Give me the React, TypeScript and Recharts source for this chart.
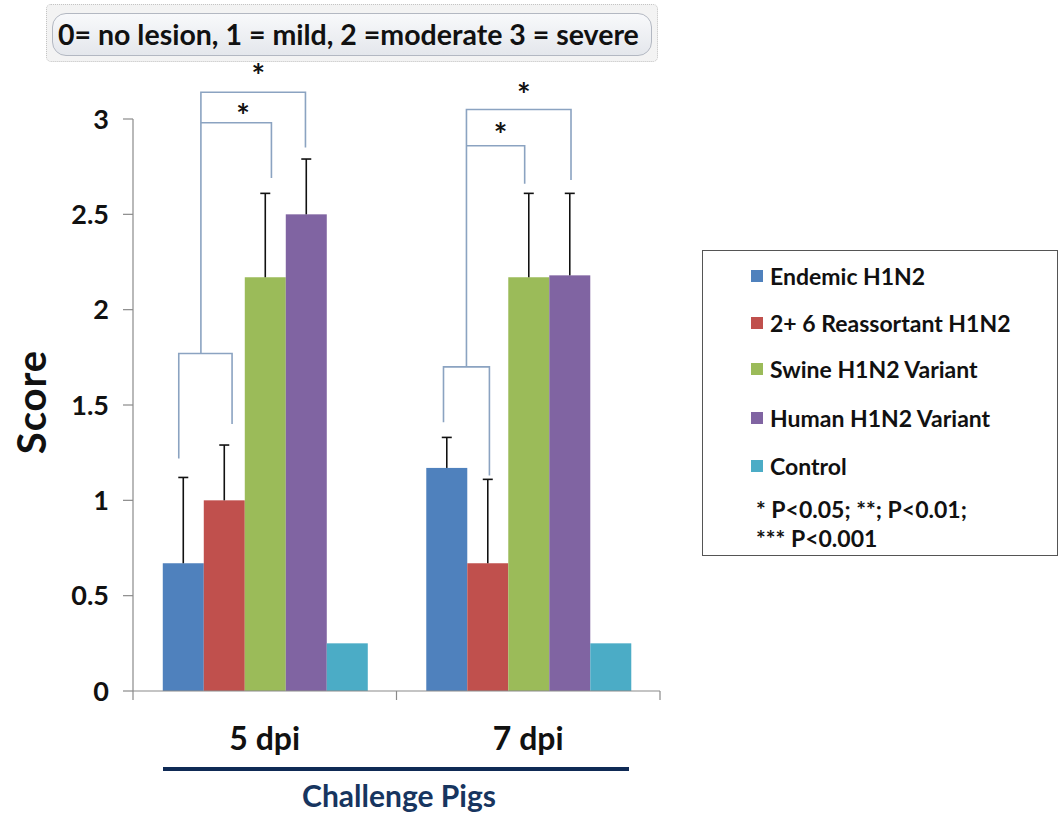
import React from 'react';
import { BarChart, Bar, XAxis, YAxis, Legend } from 'recharts';

const categories = ['5 dpi', '7 dpi'];
const seriesNames = ['Endemic H1N2', '2+ 6 Reassortant H1N2', 'Swine H1N2 Variant', 'Human H1N2 Variant', 'Control'];
const seriesKeys = ['endemic', 'reassortant', 'swine', 'human', 'control'];
const seriesColors = ['#4f81bd', '#c0504d', '#9bbb59', '#8064a2', '#4bacc6'];

const endemic = [0.67, 1.17];
const endemicErr = [0.45, 0.16];
const reassortant = [1.0, 0.67];
const reassortantErr = [0.29, 0.44];
const swine = [2.17, 2.17];
const swineErr = [0.44, 0.44];
const human = [2.5, 2.18];
const humanErr = [0.29, 0.43];
const control = [0.25, 0.25];
const controlErr = [0, 0];

const yTicks = [0, 0.5, 1, 1.5, 2, 2.5, 3];

const title = '0= no lesion, 1 = mild, 2 =moderate 3 = severe';
const yLabel = 'Score';
const xLabel = 'Challenge Pigs';
const statsLines = ['* P<0.05; **; P<0.01;', '*** P<0.001'];

// significance brackets: points as [bar slot within group (0..5), score]
const brackets5 = [
  [[0.39, 1.22], [0.39, 1.77], [1.69, 1.77], [1.69, 1.40]],
  [[0.93, 1.77], [0.93, 3.14], [3.48, 3.14], [3.48, 2.85]],
  [[0.93, 2.98], [2.65, 2.98], [2.65, 2.69]],
];
const stars5 = [[2.33, 3.25], [1.96, 3.04]];
const brackets7 = [
  [[0.42, 1.41], [0.42, 1.70], [1.54, 1.70], [1.54, 1.13]],
  [[0.98, 1.70], [0.98, 3.05], [3.53, 3.05], [3.53, 2.68]],
  [[0.98, 2.86], [2.40, 2.86], [2.40, 2.66]],
];
const stars7 = [[2.38, 3.15], [1.81, 2.94]];
const bracketSets = [brackets5, brackets7];
const starSets = [stars5, stars7];

const errArrays = [endemicErr, reassortantErr, swineErr, humanErr, controlErr];
const valueArrays = [endemic, reassortant, swine, human, control];

const data = categories.map((c, i) => {
  const row: any = { category: c };
  seriesKeys.forEach((k, s) => {
    row[k] = valueArrays[s][i];
  });
  return row;
});

const FONT = 'Lato, Carlito, Calibri, sans-serif';

const makeShape = (seriesIdx: number) => (props: any) => {
  const { x, y, width, height, fill, payload } = props;
  const idx = categories.indexOf(payload.category);
  const v = valueArrays[seriesIdx][idx];
  const base = y + height;
  const ppu = v ? height / v : 0;
  const err = errArrays[seriesIdx][idx];
  const cx = x + width / 2;
  const els: any[] = [];
  els.push(<rect key="r" x={x} y={y} width={width} height={height} fill={fill} />);
  if (err > 0) {
    const top = base - (v + err) * ppu;
    els.push(<line key="e1" x1={cx} y1={y} x2={cx} y2={top} stroke="#111" strokeWidth={1.6} />);
    els.push(<line key="e2" x1={cx - 5} y1={top} x2={cx + 5} y2={top} stroke="#111" strokeWidth={1.6} />);
  }
  if (seriesIdx === seriesKeys.length - 1) {
    const groupStart = x - seriesIdx * width;
    const sx = (s: number) => groupStart + s * width;
    const sy = (sc: number) => base - sc * ppu;
    bracketSets[idx].forEach((pts, j) => {
      els.push(
        <polyline
          key={'b' + j}
          points={pts.map((p) => `${sx(p[0])},${sy(p[1])}`).join(' ')}
          fill="none"
          stroke="#8ba3c1"
          strokeWidth={1.6}
        />
      );
    });
    starSets[idx].forEach((p, j) => {
      els.push(
        <text key={'s' + j} x={sx(p[0])} y={sy(p[1]) + 17} textAnchor="middle" fontFamily={FONT} fontWeight={700} fontSize={32} fill="#111">
          *
        </text>
      );
    });
  }
  return <g>{els}</g>;
};

const XTick = (props: any) => {
  const { x, y, payload, index } = props;
  const half = payload && payload.offset ? payload.offset : 0;
  const last = index === categories.length - 1;
  return (
    <g>
      <line x1={x - half} y1={y} x2={x - half} y2={y + 9} stroke="#8a8a8a" strokeWidth={1.2} />
      {last ? <line x1={x + half} y1={y} x2={x + half} y2={y + 9} stroke="#8a8a8a" strokeWidth={1.2} /> : null}
      <text x={x} y={y + 59} textAnchor="middle" fontFamily={FONT} fontWeight={700} fontSize={32} fill="#111">
        {payload.value}
      </text>
    </g>
  );
};

const legendRowTops = [25, 72, 118, 167, 215];
const statsTops = [258, 287];

const renderLegend = () => (
  <div
    style={{
      position: 'relative',
      width: 356,
      height: 306,
      boxSizing: 'border-box',
      border: '1.5px solid #555',
      background: '#fff',
      fontFamily: FONT,
      fontWeight: 700,
      color: '#111',
    }}
  >
    {seriesNames.map((n, i) => (
      <div key={n} style={{ position: 'absolute', left: 48, top: legendRowTops[i] - 13, height: 26, display: 'flex', alignItems: 'center', fontSize: 23, whiteSpace: 'nowrap' }}>
        <span style={{ display: 'inline-block', width: 12, height: 12, background: seriesColors[i], marginRight: 7 }} />
        {n}
      </div>
    ))}
    {statsLines.map((t, i) => (
      <div key={t} style={{ position: 'absolute', left: 53, top: statsTops[i] - 13, height: 26, lineHeight: '26px', fontSize: 23, whiteSpace: 'nowrap' }}>
        {t}
      </div>
    ))}
  </div>
);

export default function App() {
  return (
    <div style={{ position: 'absolute', left: 0, top: 0, width: 1061, height: 814, background: '#fff', overflow: 'hidden' }}>
      <BarChart
        width={1061}
        height={814}
        data={data}
        margin={{ top: 119, right: 401, bottom: 63, left: 73 }}
        barCategoryGap="11.3%"
        barGap={0}
      >
        <XAxis
          dataKey="category"
          height={60}
          axisLine={{ stroke: '#8a8a8a', strokeWidth: 1.2 }}
          tickLine={false}
          tickSize={0}
          tickMargin={0}
          tick={<XTick />}
          interval={0}
        />
        <YAxis
          width={60}
          domain={[0, 3]}
          ticks={yTicks}
          axisLine={{ stroke: '#8a8a8a', strokeWidth: 1.2 }}
          tickLine={{ stroke: '#8a8a8a', strokeWidth: 1.2 }}
          tickSize={10}
          tickMargin={14}
          tick={{ fontFamily: FONT, fontWeight: 700, fontSize: 27, fill: '#111' }}
        />
        <Legend
          layout="horizontal"
          verticalAlign="middle"
          align="center"
          content={renderLegend}
          wrapperStyle={{ left: 702, top: 250, width: 356, height: 306 }}
        />
        {seriesKeys.map((k, i) => (
          <Bar key={k} dataKey={k} name={seriesNames[i]} fill={seriesColors[i]} isAnimationActive={false} shape={makeShape(i)} />
        ))}
      </BarChart>

      <div style={{ position: 'absolute', left: 46, top: 4, width: 612, height: 58, boxSizing: 'border-box', background: '#f3f3f3', border: '1px dotted #c4c4c4', borderRadius: 5 }} />
      <div
        style={{
          position: 'absolute',
          left: 52,
          top: 13,
          width: 600,
          height: 43,
          boxSizing: 'border-box',
          background: 'linear-gradient(#f8f9fb, #e4e7ec)',
          border: '1px solid #b3b8c2',
          borderRadius: 14,
          fontFamily: FONT,
          fontWeight: 700,
          fontSize: 28.5,
          color: '#111',
          lineHeight: '41px',
          paddingLeft: 5,
          whiteSpace: 'nowrap',
        }}
      >
        {title}
      </div>

      <div
        style={{
          position: 'absolute',
          left: 31 - 70,
          top: 402 - 25,
          width: 140,
          height: 50,
          lineHeight: '50px',
          textAlign: 'center',
          transform: 'rotate(-90deg)',
          fontFamily: FONT,
          fontWeight: 700,
          fontSize: 40,
          letterSpacing: 1,
          color: '#111',
        }}
      >
        {yLabel}
      </div>

      <div style={{ position: 'absolute', left: 163, top: 767, width: 466, height: 4, background: '#0f2a55' }} />
      <div
        style={{
          position: 'absolute',
          left: 166,
          top: 779,
          width: 466,
          height: 33,
          lineHeight: '33px',
          textAlign: 'center',
          fontFamily: FONT,
          fontWeight: 700,
          fontSize: 30,
          color: '#17355f',
        }}
      >
        {xLabel}
      </div>
    </div>
  );
}
